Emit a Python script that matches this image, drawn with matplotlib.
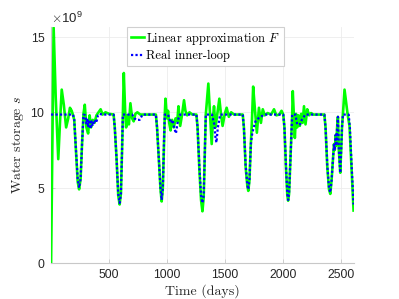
# ============================================
# Water storage: linear approximation vs real inner-loop
# ============================================

import numpy as np
import matplotlib
matplotlib.use("Agg")
import matplotlib.pyplot as plt
from matplotlib.ticker import ScalarFormatter

# -----------------------------
# 1. Data (storage in units of 1e9)
# -----------------------------
t_real = [0, 190, 200, 215, 230, 242, 255, 268, 280, 295, 305, 312, 320, 330, 340,
          350, 360, 375, 390, 405, 420, 440, 540, 550, 565, 580, 592, 603, 613, 620,
          700, 720, 735, 765, 790, 905, 915, 930, 945, 955, 965, 975, 982, 1010,
          1020, 1035, 1050, 1062, 1078, 1090, 1100, 1115, 1255, 1265, 1280, 1295,
          1307, 1318, 1328, 1336, 1390, 1400, 1410, 1420, 1428, 1440, 1450, 1460,
          1655, 1665, 1680, 1695, 1703, 1713, 1725, 1737, 1750, 1765, 1790, 1820,
          1850, 2005, 2015, 2028, 2040, 2047, 2055, 2070, 2082, 2110, 2125, 2150,
          2165, 2195, 2360, 2370, 2385, 2400, 2411, 2422, 2435, 2443, 2450, 2458,
          2463, 2470, 2477, 2485, 2497, 2505, 2512, 2520, 2570, 2580, 2595, 2612]
s_real = [9.85, 9.85, 9.5, 7.5, 5.6, 5.0, 5.6, 8.0, 9.85, 9.8, 9.2, 9.6, 9.0, 9.5, 8.9,
          9.4, 9.1, 9.5, 9.3, 9.8, 9.9, 9.85, 9.85, 9.0, 7.0, 4.6, 4.0, 4.6, 7.5, 9.85,
          9.85, 9.6, 9.5, 9.5, 9.85, 9.85, 9.0, 7.0, 5.0, 4.2, 5.0, 8.0, 9.85, 9.85,
          9.6, 9.3, 9.5, 9.0, 8.6, 9.2, 9.6, 9.85, 9.85, 9.0, 6.5, 4.5,
          4.0, 4.5, 7.5, 9.85, 9.85, 9.5, 9.2, 8.3, 8.0, 9.0, 9.4, 9.85,
          9.85, 9.0, 6.5, 5.2, 4.9, 5.5, 7.9, 8.6, 9.0, 9.4, 9.6, 9.75,
          9.85, 9.85, 9.0, 6.5, 4.6, 4.2, 4.6, 7.5, 9.85, 9.85, 9.2, 9.2,
          9.5, 9.85, 9.85, 9.0, 6.5, 5.0, 4.7, 5.5, 7.0, 7.9, 7.5, 8.5,
          7.8, 9.0, 9.7, 7.5, 6.0, 7.5, 9.0, 9.85, 9.85, 9.0, 6.5, 3.9]

t_lin = [0, 22, 40, 62, 78, 92, 110, 130, 148, 163, 178, 190, 200, 215, 230, 242, 255,
         268, 280, 291, 305, 320, 333, 345, 360, 375, 392, 410, 428, 445, 470, 500,
         540, 550, 565, 580, 592, 603, 613, 620, 628, 640, 648, 660, 672, 685, 700,
         713, 728, 745, 770, 905, 915, 930, 945, 955, 965, 975, 982, 988, 1000,
         1010, 1020, 1032, 1045, 1060, 1075, 1090, 1100, 1115, 1130, 1148, 1160,
         1175, 1195, 1220, 1255, 1265, 1280, 1295, 1307, 1318, 1328, 1336, 1358,
         1372, 1387, 1400, 1407, 1420, 1437, 1453, 1468, 1481, 1500, 1516, 1535,
         1555, 1580, 1655, 1665, 1680, 1695, 1703, 1713, 1725, 1735, 1745, 1760,
         1777, 1795, 1812, 1828, 1845, 1870, 1900, 1925, 1945, 1970, 1990, 2005,
         2015, 2028, 2040, 2047, 2055, 2070, 2082, 2087, 2095, 2105, 2115, 2125,
         2135, 2148, 2160, 2172, 2184, 2197, 2212, 2228, 2245, 2265, 2360, 2370,
         2385, 2400, 2411, 2422, 2435, 2443, 2450, 2458, 2463, 2470, 2477, 2485,
         2497, 2505, 2512, 2520, 2534, 2545, 2560, 2577, 2595, 2612]
s_lin = [0.0, 15.6, 11.0, 6.9, 9.5, 11.5, 10.5, 9.0, 9.6, 10.3, 10.1, 9.8, 9.5, 7.5,
         5.4, 4.9, 5.6, 8.0, 9.9, 10.5, 9.0, 8.6, 9.8, 9.0, 9.5, 9.3, 9.8, 10.0, 10.2,
         9.85, 10.0, 9.9, 9.85, 9.0, 7.0, 4.5, 3.9, 4.6, 7.5, 9.85, 12.6, 10.0, 9.0,
         9.8, 9.2, 10.6, 9.6, 9.4, 9.9, 10.0, 9.85, 9.85, 9.0, 7.0, 4.9, 4.1, 5.0,
         8.0, 9.85, 10.9, 9.6, 10.1, 9.3, 8.8, 9.5, 9.0, 9.6, 9.4, 10.4, 9.1, 9.8,
         10.8, 10.1, 9.8, 10.0, 9.85, 9.85, 9.0, 6.3, 4.2, 3.45, 4.4, 7.5, 9.85,
         11.9, 10.0, 7.9, 9.8, 10.4, 9.0, 10.0, 10.9, 9.8, 9.1, 9.9, 10.3, 9.7,
         10.0, 9.85, 9.85, 9.0, 6.4, 5.1, 4.8, 5.5, 7.9, 9.5, 11.7, 10.2, 8.65,
         10.3, 9.3, 10.2, 9.8, 9.95, 9.85, 10.2, 9.8, 9.85, 10.1, 9.85, 9.0, 6.4,
         4.5, 4.15, 4.6, 7.5, 9.85, 11.4, 10.0, 8.3, 9.9, 9.0, 9.8, 9.1, 9.9, 9.3,
         10.4, 9.2, 10.2, 9.8, 9.95, 9.85, 9.85, 9.0, 6.4, 4.9, 4.6, 5.5, 7.0, 7.9,
         7.5, 8.5, 7.8, 9.0, 9.7, 7.5, 6.0, 7.5, 9.0, 9.85, 11.5, 10.8, 9.9, 9.1,
         6.2, 3.5]

scale = 1e9

# -----------------------------
# 2. Figure setup
# -----------------------------
plt.rcParams["mathtext.fontset"] = "cm"
plt.rcParams["font.family"] = ["Liberation Sans", "DejaVu Sans"]

fig = plt.figure(figsize=(3.99, 2.99), dpi=100)
ax = fig.add_axes([0.128, 0.119, 0.759, 0.791])

ax.plot(np.array(t_lin), np.array(s_lin) * scale, color="#00ff00", lw=1.9,
        label=r"Linear approximation $F$", zorder=3)
ax.plot(np.array(t_real), np.array(s_real) * scale, color="#0000ff", lw=1.6,
        ls=(0, (1, 1)), label="Real inner-loop", zorder=4)

# -----------------------------
# 3. Axes styling
# -----------------------------
ax.set_xlim(0, 2615)
ax.set_ylim(0, 15.65e9)
ax.set_xticks([500, 1000, 1500, 2000, 2500])
ax.set_yticks([0, 5e9, 10e9, 15e9])

fmt = ScalarFormatter(useMathText=True)
fmt.set_powerlimits((9, 9))
ax.yaxis.set_major_formatter(fmt)
ax.yaxis.get_offset_text().set_fontsize(9.5)
ax.yaxis.get_offset_text().set_color("#262626")

ax.grid(True, color="#ececec", lw=0.6)
ax.set_axisbelow(True)
for side in ["top", "right"]:
    ax.spines[side].set_visible(False)
for side in ["left", "bottom"]:
    ax.spines[side].set_color("#c8c8c8")
    ax.spines[side].set_linewidth(0.8)
ax.tick_params(direction="in", length=3, width=0.6, color="#c8c8c8",
               labelsize=8.7, labelcolor="#262626", pad=4)

ax.set_xlabel("Time (days)", family="cmr10", fontsize=10, color="#262626", labelpad=2)
ax.set_ylabel(r"Water storage $s$", family="cmr10", fontsize=10, color="#262626", labelpad=3)

leg = ax.legend(loc="upper center", bbox_to_anchor=(0.51, 1.01),
                prop={"family": "cmr10", "size": 9}, handlelength=1.1,
                handletextpad=0.15, borderpad=0.3, labelspacing=0.25,
                fancybox=False, framealpha=1.0, edgecolor="#d0d0d0", borderaxespad=0.2)
leg.get_frame().set_linewidth(0.8)

fig.savefig("out.png", dpi=100)
print("[INFO] saved out.png")
